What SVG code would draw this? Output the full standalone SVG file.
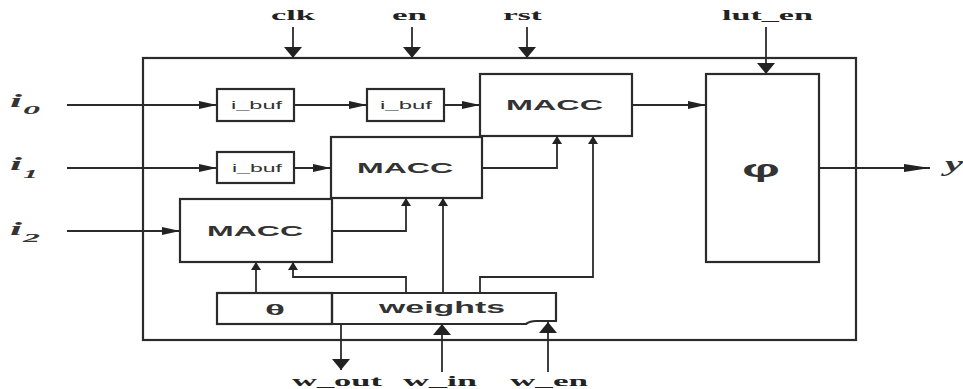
<svg xmlns="http://www.w3.org/2000/svg" width="963" height="389" viewBox="0 0 963 389">
<style>
.box{fill:none;stroke:#2b2b2b;stroke-width:2.2}
.wire{fill:none;stroke:#2b2b2b;stroke-width:1.8}
.lbl{font-family:"Liberation Serif","Times New Roman",serif;font-weight:bold;font-size:15px;fill:#222}
.ital{font-family:"Liberation Serif","Times New Roman",serif;font-style:italic;font-weight:bold;fill:#333}
.sans{font-family:"Liberation Sans",Arial,sans-serif;font-weight:bold;fill:#333}
.buf{font-family:"Liberation Sans",Arial,sans-serif;font-weight:normal;fill:#333}
</style>
<defs>
<marker id="mh" markerUnits="userSpaceOnUse" viewBox="0 0 18 8" markerWidth="18" markerHeight="8" refX="18" refY="4" orient="auto"><path d="M0,0 L18,4 L0,8 z" fill="#222"/></marker>
<marker id="my" markerUnits="userSpaceOnUse" viewBox="0 0 26 8" markerWidth="26" markerHeight="8" refX="26" refY="4" orient="auto"><path d="M0,0 L26,4 L0,8 z" fill="#222"/></marker>
<marker id="mv" markerUnits="userSpaceOnUse" viewBox="0 0 8 10" markerWidth="8" markerHeight="10" refX="8" refY="5" orient="auto"><path d="M0,0 L8,5 L0,10 z" fill="#222"/></marker>
<marker id="mbig" markerUnits="userSpaceOnUse" viewBox="0 0 11 18" markerWidth="11" markerHeight="18" refX="11" refY="9" orient="auto"><path d="M0,0 L11,9 L0,18 z" fill="#222"/></marker>
</defs>
<rect width="963" height="389" fill="#fff"/>

<g id="outer"><rect class="box" x="143" y="58" width="713" height="282"/></g>

<g id="ibuf1"><rect class="box" x="217" y="89" width="77" height="32"/><text class="buf" x="231" y="109" font-size="11" textLength="51" lengthAdjust="spacingAndGlyphs">i_buf</text></g>
<g id="ibuf2"><rect class="box" x="367" y="89" width="77" height="32"/><text class="buf" x="380" y="109" font-size="11" textLength="52" lengthAdjust="spacingAndGlyphs">i_buf</text></g>
<g id="ibuf3"><rect class="box" x="217" y="152" width="77" height="31"/><text class="buf" x="232" y="172" font-size="11" textLength="50" lengthAdjust="spacingAndGlyphs">i_buf</text></g>

<g id="macc_top"><rect class="box" x="480" y="74" width="152" height="62"/><text class="sans" x="506" y="110" font-size="14" textLength="97" lengthAdjust="spacingAndGlyphs">MACC</text></g>
<g id="macc_mid"><rect class="box" x="331" y="137" width="151" height="61"/><text class="sans" x="357" y="173" font-size="14" textLength="96" lengthAdjust="spacingAndGlyphs">MACC</text></g>
<g id="macc_bot"><rect class="box" x="180" y="199" width="152" height="63"/><text class="sans" x="207" y="236" font-size="14" textLength="96" lengthAdjust="spacingAndGlyphs">MACC</text></g>

<g id="phi"><rect class="box" x="706" y="74" width="113" height="188"/><text class="sans" x="742" y="177" font-size="24" textLength="38" lengthAdjust="spacingAndGlyphs">φ</text></g>

<g id="theta"><rect class="box" x="217" y="293" width="115" height="31"/><text class="sans" x="265" y="315" font-size="15" textLength="20" lengthAdjust="spacingAndGlyphs">θ</text></g>
<g id="weights"><path class="box" d="M332,293 H556 V321 H536 Q530,321 526,324 H332 Z"/><text class="sans" x="379" y="313" font-size="17" textLength="126" lengthAdjust="spacingAndGlyphs">weights</text></g>

<g id="connectors">
<path class="wire" d="M67,105 H217" marker-end="url(#mh)"/>
<path class="wire" d="M67,168 H217" marker-end="url(#mh)"/>
<path class="wire" d="M67,231 H180" marker-end="url(#mh)"/>
<path class="wire" d="M294,105 H367" marker-end="url(#mh)"/>
<path class="wire" d="M444,105 H480" marker-end="url(#mh)"/>
<path class="wire" d="M294,168 H331" marker-end="url(#mh)"/>
<path class="wire" d="M632,105 H706" marker-end="url(#mh)"/>
<path class="wire" d="M819,168 H930" marker-end="url(#my)"/>
<path class="wire" d="M332,231 H406 V198" marker-end="url(#mv)"/>
<path class="wire" d="M443,293 V198" marker-end="url(#mv)"/>
<path class="wire" d="M406,293 V277 H293 V262" marker-end="url(#mv)"/>
<path class="wire" d="M256,293 V262" marker-end="url(#mv)"/>
<path class="wire" d="M482,168 H557 V136" marker-end="url(#mv)"/>
<path class="wire" d="M480,293 V277 H593 V136" marker-end="url(#mv)"/>
<path class="wire" d="M293,27 V58" marker-end="url(#mbig)"/>
<path class="wire" d="M412,27 V58" marker-end="url(#mbig)"/>
<path class="wire" d="M527,27 V58" marker-end="url(#mbig)"/>
<path class="wire" d="M766,27 V74" marker-end="url(#mbig)"/>
<path class="wire" d="M341,324 V370" marker-end="url(#mbig)"/>
<path class="wire" d="M442,372 V324" marker-end="url(#mbig)"/>
<path class="wire" d="M548,372 V322" marker-end="url(#mbig)"/>
</g>

<g id="labels">
<text class="lbl" x="271" y="20" textLength="44" lengthAdjust="spacingAndGlyphs">clk</text>
<text class="lbl" x="392" y="20" textLength="35" lengthAdjust="spacingAndGlyphs">en</text>
<text class="lbl" x="503" y="20" textLength="39" lengthAdjust="spacingAndGlyphs">rst</text>
<text class="lbl" x="722" y="20" textLength="91" lengthAdjust="spacingAndGlyphs">lut_en</text>
<text class="lbl" x="292" y="386" textLength="90" lengthAdjust="spacingAndGlyphs">w_out</text>
<text class="lbl" x="403" y="386" textLength="74" lengthAdjust="spacingAndGlyphs">w_in</text>
<text class="lbl" x="510" y="386" textLength="78" lengthAdjust="spacingAndGlyphs">w_en</text>
<text class="ital" x="10" y="107" font-size="19" textLength="12" lengthAdjust="spacingAndGlyphs">i</text>
<text class="ital" x="23" y="114" font-size="13" textLength="17" lengthAdjust="spacingAndGlyphs">0</text>
<text class="ital" x="10" y="170" font-size="19" textLength="12" lengthAdjust="spacingAndGlyphs">i</text>
<text class="ital" x="23" y="178" font-size="13" textLength="15" lengthAdjust="spacingAndGlyphs">1</text>
<text class="ital" x="10" y="235" font-size="19" textLength="12" lengthAdjust="spacingAndGlyphs">i</text>
<text class="ital" x="23" y="242" font-size="13" textLength="17" lengthAdjust="spacingAndGlyphs">2</text>
<text class="ital" x="945" y="171" font-size="20" textLength="18" lengthAdjust="spacingAndGlyphs">y</text>
</g>
</svg>
